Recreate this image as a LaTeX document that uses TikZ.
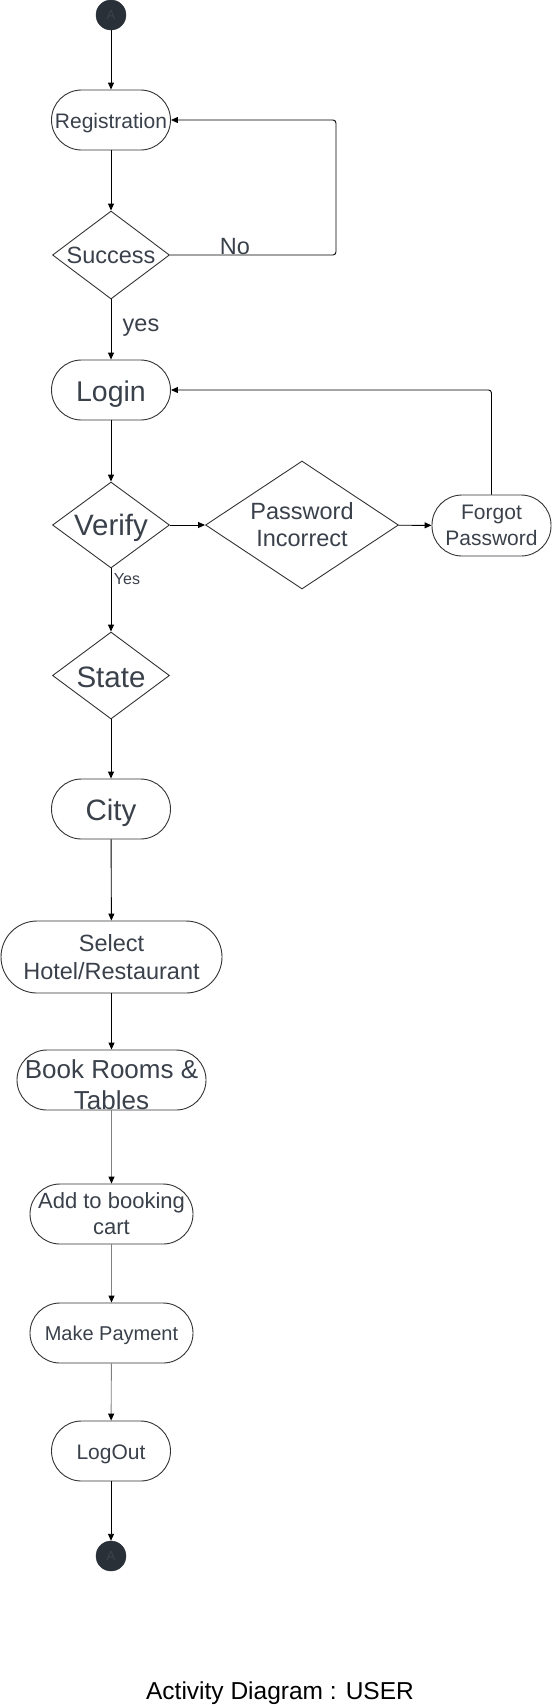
\documentclass[tikz,border=0pt]{standalone}
\usepackage{fontspec}
\setmainfont{Liberation Sans}
\usetikzlibrary{shapes.geometric,arrows.meta}
\definecolor{txt}{HTML}{3A414B}
\definecolor{dot}{HTML}{2A3038}
\definecolor{dotA}{HTML}{3B434D}
\definecolor{edge}{HTML}{333333}
\definecolor{grayline}{HTML}{808080}
\newcommand\cbox[1]{\raisebox{-0.39em}[0pt][0pt]{#1}}
\begin{document}
\begin{tikzpicture}[x=1pt,y=-1pt,
  stadium/.style={draw=edge,line width=0.9pt,rectangle,rounded corners=#1,inner sep=0pt,align=center,text=txt},
  stadium/.default=30pt,
  dec/.style={draw=edge,line width=0.9pt,diamond,inner sep=0pt,align=center,text=txt},
  dotnode/.style={circle,fill=dot,draw=dot,minimum size=30pt,inner sep=0pt,text=dotA,font=\fontsize{13}{15}\selectfont},
  conn/.style={draw=black,line width=0.9pt,-{Triangle[length=7pt,width=6pt,color=black]}},
  gconn/.style={conn,draw=grayline},
  lbl/.style={text=txt,inner sep=0pt}
]
\useasboundingbox (0,0) rectangle (553,1706);
\fill[white] (0,0) rectangle (553,1706);

\node[dotnode] (start) at (111,15) {A};
\node[stadium,minimum width=119pt,minimum height=60pt,font=\fontsize{21}{25}\selectfont] (reg) at (111,120) {\cbox{Registration}};
\node[dec,minimum width=117pt,minimum height=88pt,font=\fontsize{23.5}{27}\selectfont] (succ) at (111,255) {\makebox[0pt]{Success}};
\node[stadium,minimum width=119pt,minimum height=60pt,font=\fontsize{28.5}{32}\selectfont] (login) at (111,390) {\cbox{Login}};
\node[dec,minimum width=117pt,minimum height=86pt,font=\fontsize{29.5}{33}\selectfont] (verify) at (111,525) {\makebox[0pt]{\raisebox{-0.36em}[0pt][0pt]{Verify}}};
\node[dec,minimum width=193pt,minimum height=128pt,aspect=1.5,font=\fontsize{23.5}{27}\selectfont] (pwd) at (302,525) {Password\\Incorrect};
\node[stadium,minimum width=119pt,minimum height=61pt,font=\fontsize{21}{26}\selectfont] (forgot) at (491.5,525.5) {Forgot\\Password};
\node[dec,minimum width=117pt,minimum height=87pt,font=\fontsize{29.5}{33}\selectfont] (state) at (111,675.5) {\makebox[0pt]{\cbox{State}}};
\node[stadium,minimum width=119pt,minimum height=60pt,font=\fontsize{29.5}{33}\selectfont] (city) at (111,809) {\cbox{City}};
\node[stadium=36pt,minimum width=221pt,minimum height=72pt,font=\fontsize{23.5}{28.5}\selectfont] (select) at (111.5,957) {Select\\Hotel/Restaurant};
\node[stadium,minimum width=189pt,minimum height=60pt,text height=59pt,font=\fontsize{26}{30.5}\selectfont] (book) at (111.5,1080) {Book Rooms \&\\Tables};
\node[stadium,minimum width=163pt,minimum height=60pt,font=\fontsize{22}{26}\selectfont] (cart) at (111.5,1214) {Add to booking\\cart};
\node[stadium,minimum width=163pt,minimum height=60pt,font=\fontsize{20}{24}\selectfont] (pay) at (111.5,1333) {\cbox{Make Payment}};
\node[stadium,minimum width=119pt,minimum height=60pt,font=\fontsize{21}{25}\selectfont] (logout) at (111,1451) {\cbox{LogOut}};
\node[dotnode] (end) at (111,1556) {A};
\node[inner sep=0pt,text=black,font=\fontsize{24.5}{28}\selectfont] (title) at (280,1693) {Activity Diagram : USER};

\draw[conn] (start) -- (reg);
\draw[conn] (reg) -- (succ);
\draw[conn,rounded corners=3pt] (succ.east) -- ++(166,0) |- (reg.east);
\node[lbl,font=\fontsize{23.5}{27}\selectfont] (nolbl) at (235,247) {No};
\draw[conn] (succ) -- (login);
\node[lbl,font=\fontsize{23.5}{27}\selectfont] (yeslbl) at (141,328) {yes};
\draw[conn] (login) -- (verify);
\draw[conn] (verify) -- (pwd);
\draw[conn] (pwd) -- (forgot);
\draw[conn,rounded corners=3pt] (forgot.north) |- (login.east);
\draw[conn] (verify) -- (state);
\node[lbl,font=\fontsize{16}{19}\selectfont] (Yeslbl) at (127,579) {Yes};
\draw[conn] (state) -- (city);
\draw[conn] (city) -- (select);
\draw[conn] (select) -- (book);
\draw[gconn] (book) -- (cart);
\draw[gconn] (cart) -- (pay);
\draw[gconn] (pay) -- (logout);
\draw[conn] (logout) -- (end);
\end{tikzpicture}
\end{document}
